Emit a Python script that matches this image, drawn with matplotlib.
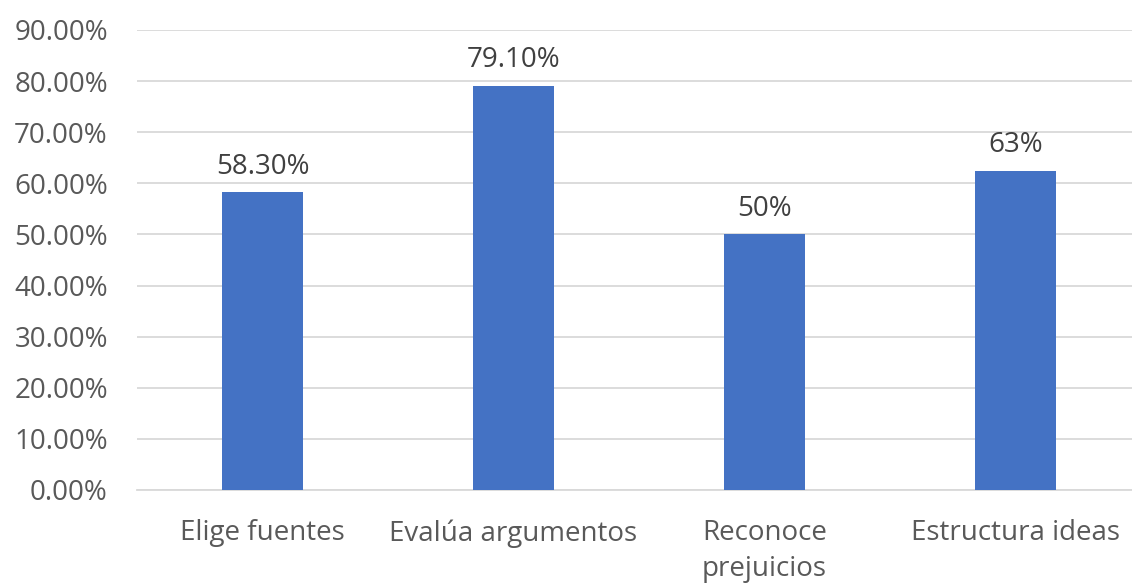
import matplotlib.pyplot as plt
import numpy as np

# data
categories = ["Elige fuentes", "Evalúa argumentos", "Reconoce\nprejuicios", "Estructura ideas"]
values = [0.583, 0.791, 0.50, 0.625]
labels = ["58.30%", "79.10%", "50%", "63%"]
yticks = np.arange(0, 0.91, 0.1)

plt.rcParams['font.family'] = ['Open Sans', 'DejaVu Sans']

fig = plt.figure(figsize=(11.32, 5.83), dpi=100)
ax = fig.add_axes([137 / 1132, 93 / 583, 1004 / 1132, 460 / 583])

x = np.arange(len(categories))
bars = ax.bar(x, values, width=0.32, color="#4472C4", zorder=3)

for b, lab in zip(bars, labels):
    ax.text(b.get_x() + b.get_width() / 2, b.get_height() + 0.022, lab,
            ha="center", va="bottom", fontsize=20, color="#404040")

ax.set_xlim(-0.5, len(categories) - 0.5)
ax.set_ylim(0, 0.9)
ax.set_yticks(yticks)
ax.set_yticklabels([f"{v * 100:.2f}%" for v in yticks])
ax.set_xticks(x)
ax.set_xticklabels(categories, linespacing=1.35)
ax.tick_params(axis="both", length=0, labelsize=20, labelcolor="#595959")
ax.tick_params(axis="x", pad=21)
ax.tick_params(axis="y", pad=21)
ax.grid(axis="y", color="#D9D9D9", linewidth=1.3, zorder=0)
for s in ["top", "right", "left"]:
    ax.spines[s].set_visible(False)
ax.spines["bottom"].set_color("#D9D9D9")
ax.spines["bottom"].set_linewidth(1.3)

fig.savefig("out.png", dpi=100)
